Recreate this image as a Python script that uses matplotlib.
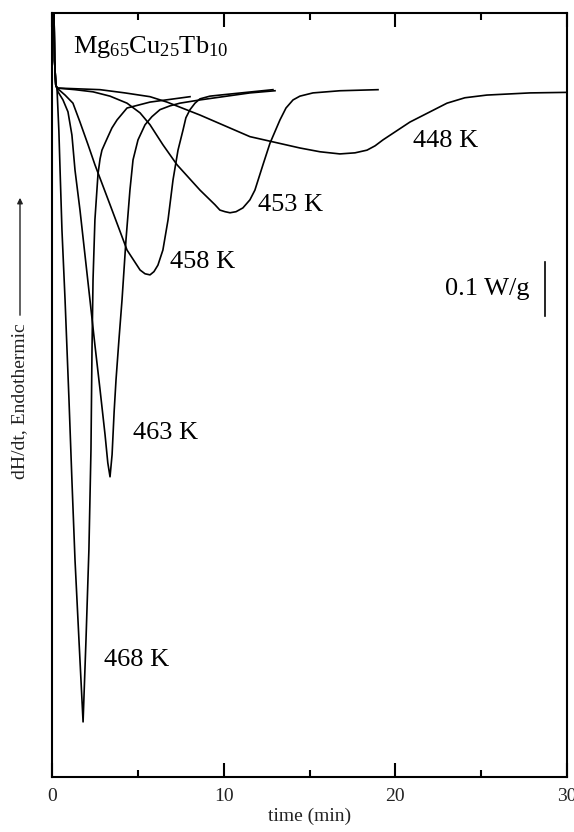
import matplotlib
matplotlib.use("Agg")
import matplotlib.pyplot as plt
import matplotlib.patches as mpatches

plt.rcParams['font.family'] = ['Liberation Serif', 'DejaVu Serif']
plt.rcParams['mathtext.fontset'] = 'custom'
plt.rcParams['mathtext.rm'] = 'Liberation Serif'
plt.rcParams['mathtext.it'] = 'Liberation Serif:italic'

# shared initial spike (time in min, heat flow in W/g)
spike_t = [0.10, 0.15, 0.22, 0.29]
spike_y = [0.20, 0.06, 0.015, 0.009]

t468 = [0.33, 0.40, 0.47, 0.58, 0.76, 0.99, 1.16, 1.34, 1.57, 1.81,
        1.98, 2.15, 2.27, 2.33, 2.39, 2.50, 2.68, 2.80, 2.91, 3.09, 3.26, 3.49, 3.79, 4.37, 5.71, 8.04]
y468 = [-0.02, -0.07, -0.143, -0.254, -0.383, -0.569, -0.717, -0.865, -1.013, -1.165,
        -1.013, -0.846, -0.661, -0.476, -0.346, -0.235, -0.150, -0.122, -0.106, -0.093, -0.081, -0.065,
        -0.050, -0.028, -0.017, -0.007]

t463 = [0.35, 0.64, 0.93, 1.16, 1.34, 1.63, 1.92, 2.21, 2.50, 2.80, 3.09, 3.25, 3.38,
        3.50, 3.62, 3.73, 3.90, 4.08, 4.31, 4.54, 4.72, 5.01, 5.42, 5.82, 6.29, 6.87, 7.45, 8.62, 11.53, 12.99]
y463 = [0.002, -0.013, -0.035, -0.078, -0.143, -0.217, -0.300, -0.383, -0.467, -0.550, -0.633, -0.685, -0.711,
        -0.670, -0.590, -0.531, -0.457, -0.383, -0.272, -0.180, -0.124, -0.087, -0.059, -0.044, -0.031,
        -0.024, -0.019, -0.013, 0.000, 0.004]

t458 = [0.76, 1.22, 1.63, 2.10, 2.50, 3.38, 4.37, 5.13, 5.42, 5.71, 5.94, 6.17, 6.46, 6.76, 7.05,
        7.34, 7.63, 7.80, 8.04, 8.33, 8.62, 9.20, 9.78, 12.87]
y458 = [-0.004, -0.019, -0.054, -0.096, -0.133, -0.207, -0.291, -0.328, -0.335, -0.337, -0.331, -0.319,
        -0.291, -0.235, -0.161, -0.106, -0.069, -0.046, -0.031, -0.019, -0.011, -0.006, -0.004, 0.006]

t453 = [1.34, 2.39, 3.38, 4.37, 5.13, 5.71, 6.46, 7.28, 8.62, 9.49, 9.78, 10.08, 10.37, 10.72, 11.12,
        11.53, 11.82, 12.29, 12.70, 13.28, 13.63, 14.04, 14.44, 15.20, 16.77, 18.99]
y453 = [0.006, 0.002, -0.006, -0.019, -0.037, -0.059, -0.096, -0.133, -0.180, -0.207, -0.217, -0.220,
        -0.222, -0.220, -0.213, -0.198, -0.180, -0.133, -0.093, -0.050, -0.028, -0.013, -0.006, 0.000,
        0.004, 0.006]

t448 = [2.80, 4.25, 5.71, 6.70, 8.62, 11.53, 14.44, 15.61, 16.77, 17.65, 18.35, 18.82, 19.28, 20.85,
        23.01, 24.05, 25.33, 27.84, 30.0]
y448 = [0.006, 0.000, -0.007, -0.017, -0.041, -0.081, -0.102, -0.109, -0.113, -0.111, -0.106, -0.098,
        -0.087, -0.054, -0.019, -0.009, -0.004, 0.000, 0.001]

curves = [(t468, y468), (t463, y463), (t458, y458), (t453, y453), (t448, y448)]

labels = ['468 K', '463 K', '458 K', '453 K', '448 K']
label_t = [3.03, 4.72, 6.87, 12.0, 21.02]
label_y = [-1.05, -0.630, -0.313, -0.207, -0.089]

fig = plt.figure(figsize=(5.74, 8.32), dpi=100)
ax = fig.add_axes([52/574, 55/832, 515/574, 764/832])

for tt, yy in curves:
    ax.plot(spike_t + tt, spike_y + yy, color='black', lw=1.2, solid_joinstyle='round')

for lab, lt, ly in zip(labels, label_t, label_y):
    ax.text(lt, ly, lab, fontsize=19, va='center', ha='left')

ax.text(1.22, 0.085, r'Mg$_{65}$Cu$_{25}$Tb$_{10}$', fontsize=19, va='center', ha='left')

# scale bar 0.1 W/g
ax.plot([28.71, 28.71], [-0.313, -0.413], color='black', lw=1.2)
ax.text(27.84, -0.363, '0.1 W/g', fontsize=19, va='center', ha='right')

ax.set_xlim(0, 30)
ax.set_ylim(-1.267, 0.148)
ax.set_xticks([0, 10, 20, 30])
ax.set_xticks([5, 15, 25], minor=True)
ax.tick_params(axis='x', which='major', direction='in', length=10, width=1.5, top=True,
               labelsize=14, labelcolor='#222222', pad=8)
ax.tick_params(axis='x', which='minor', direction='in', length=5, width=1.5, top=True)
ax.set_yticks([])
for s in ax.spines.values():
    s.set_linewidth(1.5)

ax.set_xlabel('time (min)', fontsize=14, color='#222222', labelpad=2)

fig.text(20/574, 1-401/832, 'dH/dt, Endothermic', rotation=90, fontsize=14,
         color='#222222', ha='center', va='center')
fig.add_artist(mpatches.FancyArrowPatch((20/574, 1-318/832), (20/574, 1-195/832),
               transform=fig.transFigure, arrowstyle='-|>', mutation_scale=8,
               color='#222222', lw=1.0))

fig.savefig('out.png', dpi=100)
